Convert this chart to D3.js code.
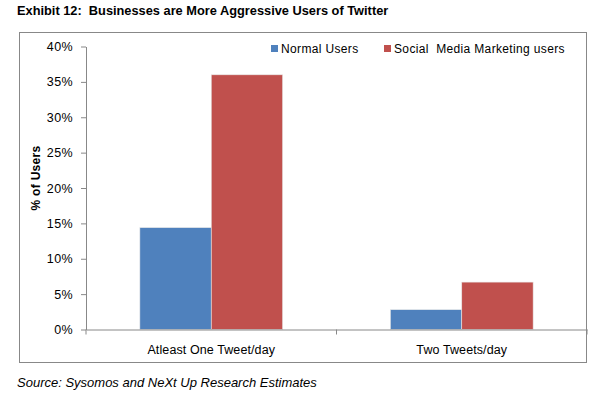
<!DOCTYPE html>
<html>
<head>
<meta charset="utf-8">
<script src="https://cdn.jsdelivr.net/npm/d3@7"></script>
<style>
  body { margin: 0; background: #fff; }
  text { font-family: "Liberation Sans", Arial, sans-serif; fill: #000; white-space: pre; }
</style>
</head>
<body>
<script>
// chart data
const categories = ["Atleast One Tweet/day", "Two Tweets/day"];
const seriesNames = ["Normal Users", "Social  Media Marketing users"];
const normalUsers = [14.4, 2.8];
const smmUsers = [36.0, 6.7];
const yTicks = [0, 5, 10, 15, 20, 25, 30, 35, 40];
const colors = ["#4F81BD", "#C0504D"];

const width = 614, height = 397;
const margin = {top: 46.5, right: 27, bottom: 67.5, left: 86};

const svg = d3.select("body").append("svg")
    .attr("width", width)
    .attr("height", height);

// title
svg.append("text")
    .attr("x", 17)
    .attr("y", 15)
    .style("font-weight", "bold")
    .style("font-size", "12.8px")
    .text("Exhibit 12:  Businesses are More Aggressive Users of Twitter");

// outer frame
svg.append("rect")
    .attr("x", 19.5)
    .attr("y", 32.5)
    .attr("width", 567)
    .attr("height", 330)
    .attr("fill", "none")
    .attr("stroke", "#888");

const x0 = d3.scaleBand()
    .domain(categories)
    .range([margin.left, width - margin.right])
    .paddingInner(0.43)
    .paddingOuter(0.215);

const x1 = d3.scaleBand()
    .domain([0, 1])
    .range([0, x0.bandwidth()]);

const y = d3.scaleLinear()
    .domain([0, 40])
    .range([height - margin.bottom, margin.top]);

// bars
const rows = categories.map((c, i) => ({cat: c, vals: [normalUsers[i], smmUsers[i]]}));

const groups = svg.selectAll(".group")
    .data(rows)
    .enter().append("g")
    .attr("class", "group")
    .attr("transform", d => "translate(" + x0(d.cat) + ",0)");

groups.selectAll("rect")
    .data(d => d.vals.map((v, j) => ({v: v, j: j})))
    .enter().append("rect")
    .attr("x", d => x1(d.j))
    .attr("y", d => y(d.v))
    .attr("width", x1.bandwidth())
    .attr("height", d => y(0) - y(d.v))
    .attr("fill", d => colors[d.j])
    .attr("stroke", "#e8e8e8")
    .attr("stroke-width", 0.6);

// y axis
const yAxis = svg.append("g")
    .attr("transform", "translate(" + margin.left + ",0)")
    .call(d3.axisLeft(y).tickValues(yTicks).tickFormat(d => d + "%").tickSize(5).tickSizeOuter(0));
yAxis.select(".domain").attr("stroke", "#888");
yAxis.selectAll(".tick line").attr("stroke", "#888");
yAxis.selectAll(".tick text")
    .attr("x", -13)
    .style("font-size", "12.5px")
    .style("letter-spacing", "0.4px")
    .style("font-family", "Liberation Sans, Arial, sans-serif");

// x axis: labels centred, ticks at category boundaries
const xAxis = svg.append("g")
    .attr("transform", "translate(0," + y(0) + ")")
    .call(d3.axisBottom(x0).tickSize(0).tickSizeOuter(0));
xAxis.select(".domain").attr("stroke", "#888");
xAxis.selectAll(".tick text")
    .attr("y", 16)
    .style("font-size", "12.5px")
    .style("letter-spacing", "0.1px")
    .style("font-family", "Liberation Sans, Arial, sans-serif");

const bounds = [x0.range()[0]].concat(categories.map(c => x0(c) + x0.bandwidth() + x0.step() * x0.paddingInner() / 2));
xAxis.selectAll(".bound")
    .data(bounds)
    .enter().append("line")
    .attr("class", "bound")
    .attr("x1", d => d)
    .attr("x2", d => d)
    .attr("y1", 0)
    .attr("y2", 5)
    .attr("stroke", "#888");

// y axis title
svg.append("text")
    .attr("transform", "translate(40,178) rotate(-90)")
    .attr("text-anchor", "middle")
    .style("font-weight", "bold")
    .style("font-size", "12px")
    .style("letter-spacing", "0.3px")
    .text("% of Users");

// legend
const legend = svg.selectAll(".legend")
    .data(seriesNames)
    .enter().append("g")
    .attr("class", "legend")
    .attr("transform", (d, i) => "translate(" + [271, 384][i] + ",45)");

legend.append("rect")
    .attr("width", 7)
    .attr("height", 7)
    .attr("y", 0)
    .attr("fill", (d, i) => colors[i]);

legend.append("text")
    .attr("x", 10)
    .attr("y", 8)
    .style("font-size", "12px")
    .style("letter-spacing", "0.35px")
    .text(d => d);

// source
svg.append("text")
    .attr("x", 17)
    .attr("y", 387)
    .style("font-style", "italic")
    .style("font-size", "13px")
    .text("Source: Sysomos and NeXt Up Research Estimates");
</script>
</body>
</html>
